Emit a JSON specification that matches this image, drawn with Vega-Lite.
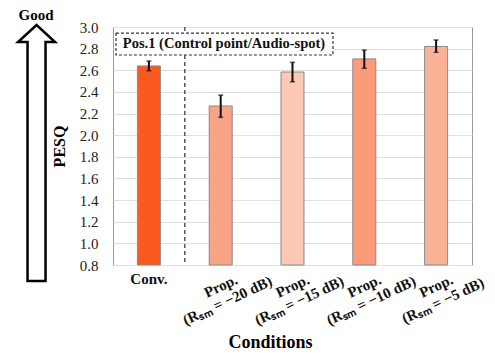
{
  "$schema": "https://vega.github.io/schema/vega-lite/v6.json",
  "width": 359,
  "height": 238,
  "autosize": {"type": "none"},
  "padding": {"left": 113, "top": 27, "right": 23, "bottom": 91},
  "background": "white",
  "config": {
    "view": {"stroke": "#9a9a9a", "strokeWidth": 1},
    "font": "Liberation Serif"
  },
  "datasets": {
    "main": [
      {"cond": "Conv.", "label": "Conv.", "mean": 2.64, "lo": 2.596, "hi": 2.685},
      {"cond": "P20", "label": "Prop.|(Rₛₘ = −20 dB)", "mean": 2.27, "lo": 2.165, "hi": 2.37},
      {"cond": "P15", "label": "Prop.|(Rₛₘ = −15 dB)", "mean": 2.584, "lo": 2.494, "hi": 2.673},
      {"cond": "P10", "label": "Prop.|(Rₛₘ = −10 dB)", "mean": 2.705, "lo": 2.618, "hi": 2.787},
      {"cond": "P5", "label": "Prop.|(Rₛₘ = −5 dB)", "mean": 2.82, "lo": 2.766, "hi": 2.88}
    ],
    "one": [{}]
  },
  "layer": [
    {
      "data": {"name": "main"},
      "mark": {"type": "bar", "stroke": "#8a8a8a", "strokeWidth": 1},
      "encoding": {
        "x": {"field": "cond", "type": "nominal", "sort": null,
              "scale": {"domain": ["Conv.", "P20", "P15", "P10", "P5"], "paddingInner": 0.68, "paddingOuter": 0.34},
              "axis": {"title": "Conditions", "labels": false, "ticks": false, "domain": false, "grid": false,
                       "titleFont": "Liberation Serif", "titleFontSize": 18, "titleFontWeight": "bold", "titleColor": "#000",
                       "titlePadding": 68, "titleX": 157}},
        "y": {"field": "mean", "type": "quantitative",
              "scale": {"domain": [0.8, 3.0], "nice": false, "zero": false},
              "axis": {"values": [0.8, 1.0, 1.2, 1.4, 1.6, 1.8, 2.0, 2.2, 2.4, 2.6, 2.8, 3.0], "tickCount": 30, "format": ".1f",
                       "title": "PESQ", "labelOverlap": false, "labelFont": "Liberation Serif", "labelFontSize": 15,
                       "labelColor": "#222", "labelPadding": 15, "ticks": false, "domain": false, "grid": true, "gridColor": "#e0e0e0",
                       "titleFont": "Liberation Serif", "titleFontSize": 16, "titleFontWeight": "bold", "titleColor": "#000", "titlePadding": 12}},
        "y2": {"datum": 0.8},
        "color": {"field": "cond", "type": "nominal", "legend": null,
                  "scale": {"domain": ["Conv.", "P20", "P15", "P10", "P5"],
                            "range": ["#fa5a1e", "#f9a585", "#fbc9b6", "#fb9b79", "#fbb398"]}}
      }
    },
    {
      "data": {"name": "main"},
      "mark": {"type": "rule", "color": "#111", "strokeWidth": 2},
      "encoding": {
        "x": {"field": "cond", "type": "nominal", "sort": null, "axis": null,
              "scale": {"domain": ["Conv.", "P20", "P15", "P10", "P5"], "paddingInner": 0.68, "paddingOuter": 0.34}},
        "y": {"field": "lo", "type": "quantitative"},
        "y2": {"field": "hi"}
      }
    },
    {
      "data": {"name": "main"},
      "mark": {"type": "tick", "color": "#111", "thickness": 1.5, "size": 5},
      "encoding": {
        "x": {"field": "cond", "type": "nominal", "sort": null, "axis": null,
              "scale": {"domain": ["Conv.", "P20", "P15", "P10", "P5"], "paddingInner": 0.68, "paddingOuter": 0.34}},
        "y": {"field": "hi", "type": "quantitative"}
      }
    },
    {
      "data": {"name": "main"},
      "mark": {"type": "tick", "color": "#111", "thickness": 1.5, "size": 5},
      "encoding": {
        "x": {"field": "cond", "type": "nominal", "sort": null, "axis": null,
              "scale": {"domain": ["Conv.", "P20", "P15", "P10", "P5"], "paddingInner": 0.68, "paddingOuter": 0.34}},
        "y": {"field": "lo", "type": "quantitative"}
      }
    },
    {
      "data": {"name": "one"},
      "mark": {"type": "rule", "color": "#555", "strokeWidth": 1.5, "strokeDash": [4, 3]},
      "encoding": {
        "x": {"datum": 1, "type": "quantitative", "axis": null, "scale": {"domain": [0, 5], "nice": false, "zero": false}}
      }
    },
    {
      "data": {"name": "one"},
      "mark": {"type": "rect", "fill": "white", "stroke": "#333", "strokeWidth": 1.2, "strokeDash": [3, 2]},
      "encoding": {
        "x": {"datum": 0.042, "type": "quantitative", "axis": null, "scale": {"domain": [0, 5], "nice": false, "zero": false}},
        "x2": {"datum": 3.064},
        "y": {"datum": 2.944, "type": "quantitative"},
        "y2": {"datum": 2.741}
      }
    },
    {
      "data": {"name": "one"},
      "mark": {"type": "text", "text": "Pos.1 (Control point/Audio-spot)", "font": "Liberation Serif", "fontWeight": "bold",
               "fontSize": 14.5, "color": "#111", "align": "center", "baseline": "middle"},
      "encoding": {
        "x": {"datum": 1.546, "type": "quantitative", "axis": null, "scale": {"domain": [0, 5], "nice": false, "zero": false}},
        "y": {"datum": 2.842, "type": "quantitative"}
      }
    },
    {
      "data": {"name": "one"},
      "mark": {"type": "point", "filled": false, "fill": "white", "fillOpacity": 1, "stroke": "#000", "strokeWidth": 2.5, "opacity": 1,
               "size": 65536,
               "shape": "M-0.0703,1 L-0.0703,-0.867 L-0.1445,-0.867 L0,-1 L0.1445,-0.867 L0.0703,-0.867 L0.0703,1 Z"},
      "encoding": {
        "x": {"datum": -1.065, "type": "quantitative", "axis": null, "scale": {"domain": [0, 5], "nice": false, "zero": false}},
        "y": {"datum": 1.835, "type": "quantitative"}
      }
    },
    {
      "data": {"name": "one"},
      "mark": {"type": "text", "text": "Good", "font": "Liberation Serif", "fontWeight": "bold", "fontSize": 15,
               "color": "#000", "align": "center", "baseline": "middle"},
      "encoding": {
        "x": {"datum": -1.072, "type": "quantitative", "axis": null, "scale": {"domain": [0, 5], "nice": false, "zero": false}},
        "y": {"datum": 3.111, "type": "quantitative"}
      }
    },
    {
      "data": {"name": "main"},
      "transform": [{"filter": "datum.cond === 'Conv.'"}],
      "mark": {"type": "text", "font": "Liberation Serif", "fontWeight": "bold", "fontSize": 15, "color": "#111",
               "align": "center", "baseline": "middle", "yOffset": 14},
      "encoding": {
        "x": {"field": "cond", "type": "nominal", "sort": null, "axis": null,
              "scale": {"domain": ["Conv.", "P20", "P15", "P10", "P5"], "paddingInner": 0.68, "paddingOuter": 0.34}},
        "y": {"datum": 0.8, "type": "quantitative"},
        "text": {"field": "label"}
      }
    },
    {
      "data": {"name": "main"},
      "transform": [{"filter": "datum.cond !== 'Conv.'"}],
      "mark": {"type": "text", "font": "Liberation Serif", "fontWeight": "bold", "fontSize": 15, "color": "#111",
               "align": "center", "baseline": "middle", "yOffset": 21, "angle": -25, "lineBreak": "|", "lineHeight": 16},
      "encoding": {
        "x": {"field": "cond", "type": "nominal", "sort": null, "axis": null,
              "scale": {"domain": ["Conv.", "P20", "P15", "P10", "P5"], "paddingInner": 0.68, "paddingOuter": 0.34}},
        "y": {"datum": 0.8, "type": "quantitative"},
        "text": {"field": "label"}
      }
    }
  ],
  "resolve": {"scale": {"x": "independent"}, "axis": {"x": "independent"}}
}
